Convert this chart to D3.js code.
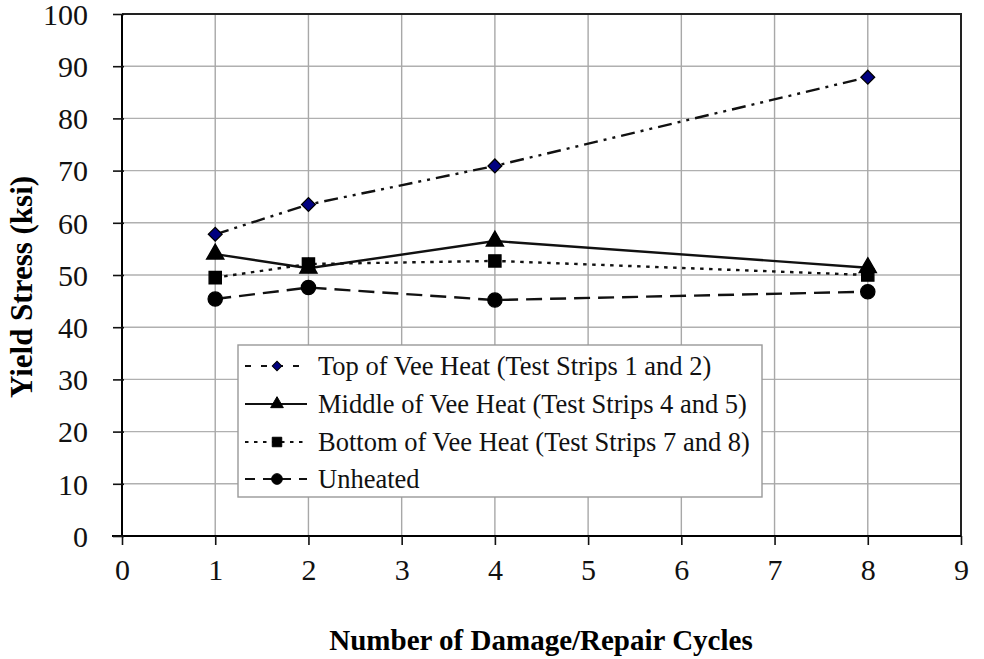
<!DOCTYPE html>
<html><head><meta charset="utf-8">
<script src="https://cdn.jsdelivr.net/npm/d3@7"></script>
<style>body{margin:0;background:#fff}svg{display:block}</style>
</head><body>
<script>
const cycles = [1, 2, 4, 8];
const topVee = [57.8, 63.5, 70.9, 87.9];
const middleVee = [54.0, 51.3, 56.5, 51.4];
const bottomVee = [49.5, 52.1, 52.7, 50.0];
const unheated = [45.4, 47.6, 45.2, 46.8];
const seriesNames = ["Top of Vee Heat (Test Strips 1 and 2)", "Middle of Vee Heat (Test Strips 4 and 5)", "Bottom of Vee Heat (Test Strips 7 and 8)", "Unheated"];
const xTicks = [0,1,2,3,4,5,6,7,8,9];
const yTicks = [0,10,20,30,40,50,60,70,80,90,100];
const xTitle = "Number of Damage/Repair Cycles";
const yTitle = "Yield Stress (ksi)";

const W = 984, H = 659;
const L = 122, R = 961, T = 14, B = 536;
const svg = d3.select("body").append("svg").attr("width", W).attr("height", H);
const font = "'Liberation Serif', 'Times New Roman', serif";
const x = d3.scaleLinear().domain([0, 9]).range([L, R]);
const y = d3.scaleLinear().domain([0, 100]).range([B, T]);

// gridlines
const g = svg.append("g");
g.selectAll("line.h").data(yTicks.slice(1)).join("line")
  .attr("x1", L).attr("x2", R).attr("y1", d => y(d)).attr("y2", d => y(d))
  .attr("stroke", "#b0b0b0").attr("stroke-width", 1.4);
g.selectAll("line.v").data(xTicks.slice(1)).join("line")
  .attr("y1", T).attr("y2", B).attr("x1", d => x(d)).attr("x2", d => x(d))
  .attr("stroke", "#a8a8a8").attr("stroke-width", 1.4);
// border top/right
svg.append("path").attr("d", `M${L},${T}H${R}V${B}`).attr("fill", "none").attr("stroke", "#222").attr("stroke-width", 2);

// axes
const xAxis = svg.append("g").attr("transform", `translate(0,${B})`)
  .call(d3.axisBottom(x).tickValues(xTicks).tickSize(9).tickPadding(22).tickFormat(d3.format("d")));
xAxis.select(".domain").attr("d", `M${L-10},0H${R}`).attr("stroke-width", 2);
const yAxis = svg.append("g").attr("transform", `translate(${L},0)`)
  .call(d3.axisLeft(y).tickValues(yTicks).tickSize(9).tickPadding(25));
yAxis.select(".domain").attr("stroke-width", 2).attr("d", `M0,${T}V${B+1}`);
yAxis.selectAll(".tick line").attr("x2", -9).attr("x1", 2);
[xAxis, yAxis].forEach(a => {
  a.selectAll(".tick line").attr("stroke", "#111").attr("stroke-width", 1.6);
  a.selectAll("text").attr("font-family", font).attr("font-size", 30).attr("fill", "#111");
});
yAxis.selectAll("text").attr("dy", "0.34em");
xAxis.selectAll("text").attr("dy", "0.71em").attr("y", 23);

svg.append("text").attr("x", 541).attr("y", 650).attr("text-anchor", "middle")
  .attr("font-family", font).attr("font-weight", "bold").attr("font-size", 29).text(xTitle);
svg.append("text").attr("transform", `translate(32,287) rotate(-90)`).attr("text-anchor", "middle")
  .attr("font-family", font).attr("font-weight", "bold").attr("font-size", 31).text(yTitle);

const series = [
  {vals: topVee, dash: "14,6,3,6,3,6", marker: "diamond", fill: "#000080"},
  {vals: middleVee, dash: null, marker: "triangle", fill: "#000"},
  {vals: bottomVee, dash: "3.5,5.5", marker: "square", fill: "#000"},
  {vals: unheated, dash: "16,8", marker: "circle", fill: "#000"}
];
const symType = {diamond: d3.symbolSquare, triangle: d3.symbolTriangle, square: d3.symbolSquare, circle: d3.symbolCircle};
const symRot = {diamond: 45, triangle: 0, square: 0, circle: 0};
const symSize = {diamond: 95, triangle: 130, square: 150, circle: 160};
const line = d3.line().x(d => x(d[0])).y(d => y(d[1]));

series.forEach(s => {
  const pts = cycles.map((c, i) => [c, s.vals[i]]);
  svg.append("path").attr("d", line(pts)).attr("fill", "none").attr("stroke", "#111")
    .attr("stroke-width", 2.4).attr("stroke-dasharray", s.dash);
});
series.forEach(s => {
  const pts = cycles.map((c, i) => [c, s.vals[i]]);
  svg.selectAll(null).data(pts).join("path")
    .attr("transform", d => `translate(${x(d[0])},${y(d[1])}) rotate(${symRot[s.marker]})`)
    .attr("d", d3.symbol(symType[s.marker], symSize[s.marker])()).attr("fill", s.fill).attr("stroke", "#000").attr("stroke-width", 1.3);
});

// legend
const lg = svg.append("g");
lg.append("rect").attr("x", 238).attr("y", 345).attr("width", 524).attr("height", 152)
  .attr("fill", "#fff").attr("stroke", "#999").attr("stroke-width", 1.4);
const rowY = [366, 404, 442, 479];
const legDash = ["6,10", null, "3.5,5.5", "10,8"];
const legSize = {diamond: 45, triangle: 70, square: 90, circle: 90};
series.forEach((s, i) => {
  const yy = rowY[i];
  lg.append("line").attr("x1", 245).attr("x2", 307).attr("y1", yy).attr("y2", yy)
    .attr("stroke", "#111").attr("stroke-width", 2.2).attr("stroke-dasharray", legDash[i]);
  lg.append("path").attr("transform", `translate(277,${yy}) rotate(${symRot[s.marker]})`)
    .attr("d", d3.symbol(symType[s.marker], legSize[s.marker])())
    .attr("fill", s.fill).attr("stroke", "#000").attr("stroke-width", 1);
  lg.append("text").attr("x", 318).attr("y", yy + 9).attr("font-family", font).attr("font-size", 26.5)
    .attr("fill", "#111").text(seriesNames[i]);
});
</script>
</body></html>
